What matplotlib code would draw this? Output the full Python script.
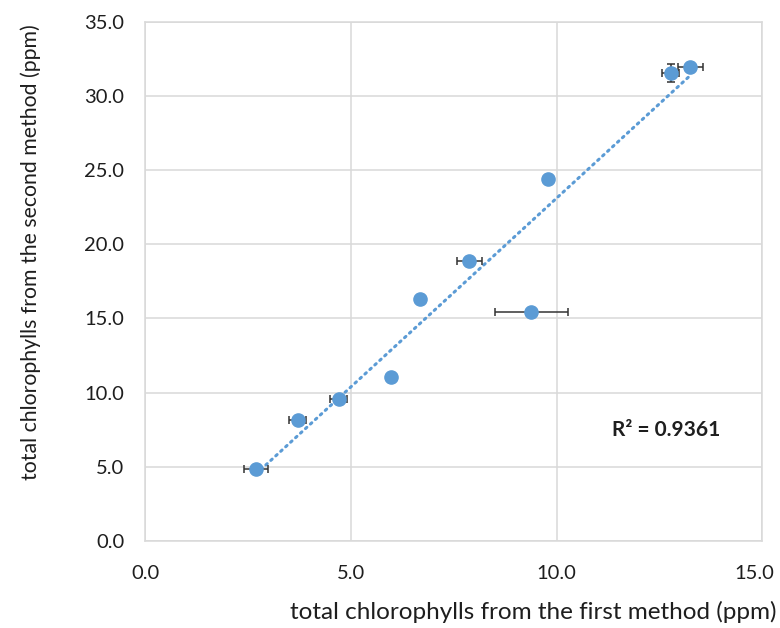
import numpy as np
import matplotlib.pyplot as plt
from matplotlib.transforms import ScaledTranslation

# ── DATA ─────────────────────────────────────────────────────
first_method  = [2.69, 3.70, 4.70, 5.98, 6.68, 7.88, 9.38, 9.78, 12.77, 13.25]
second_method = [4.83, 8.13, 9.55, 11.07, 16.3, 18.89, 15.41, 24.41, 31.56, 31.94]
x_err         = [0.30, 0.20, 0.20, 0.0, 0.0, 0.30, 0.89, 0.0, 0.20, 0.30]
y_err         = [0.0, 0.0, 0.0, 0.0, 0.0, 0.0, 0.0, 0.0, 0.6, 0.0]
r2_label      = 'R² = 0.9361'
x_ticks       = [0, 5, 10, 15]
y_ticks       = [0, 5, 10, 15, 20, 25, 30, 35]
# ─────────────────────────────────────────────────────────────

BLUE = '#5B9BD5'
GRID = '#d9d9d9'
INK  = '#1e1e1e'

plt.rcParams['font.family'] = ['Lato', 'DejaVu Sans']

fig = plt.figure(figsize=(7.8, 6.28), dpi=100)
ax = fig.add_axes([0.1863, 0.1385, 0.7910, 0.8271])

x = np.array(first_method)
y = np.array(second_method)

# linear trendline over the data range
k, b = np.polyfit(x, y, 1)
xt = np.array([x.min(), x.max()])
ax.plot(xt, k * xt + b, color=BLUE, lw=2.2, ls=(0, (0.6, 1.6)),
        dash_capstyle='round', zorder=2)

xe = [e if e > 0 else np.nan for e in x_err]
ye = [e if e > 0 else np.nan for e in y_err]
ax.errorbar(x, y, xerr=xe, yerr=ye, fmt='none', ecolor='#333333',
            elinewidth=1.1, capsize=3, capthick=1.1, zorder=3)
ax.plot(x, y, 'o', color=BLUE, markersize=9.5, zorder=4)

ax.set_xlim(0, 15)
ax.set_ylim(0, 35)
ax.set_xticks(x_ticks)
ax.set_yticks(y_ticks)
ax.set_xticklabels([f'{v:.1f}' for v in x_ticks])
ax.set_yticklabels([f'{v:.1f}' for v in y_ticks])
ax.tick_params(length=0, labelsize=14.5, colors=INK)
ax.tick_params(axis='x', pad=17)
ax.tick_params(axis='y', pad=15)

# keep the last x label inside the figure
last = ax.get_xticklabels()[-1]
last.set_transform(last.get_transform() + ScaledTranslation(-6 / 72, 0, fig.dpi_scale_trans))

ax.grid(True, color=GRID, lw=1.1)
ax.set_axisbelow(True)
for s in ax.spines.values():
    s.set_color(GRID)
    s.set_linewidth(1.1)

ax.text(11.35, 7.5, r2_label, fontsize=15, fontweight='bold', color=INK,
        va='center', ha='left')

fig.text(0.040, 0.598, 'total chlorophylls from the second method (ppm)',
         rotation=90, ha='center', va='center', fontsize=15.3, color=INK)
fig.text(0.996, 0.025, 'total chlorophylls from the first method (ppm)',
         ha='right', va='center', fontsize=17.5, color=INK)

plt.savefig('out.png', dpi=100)
